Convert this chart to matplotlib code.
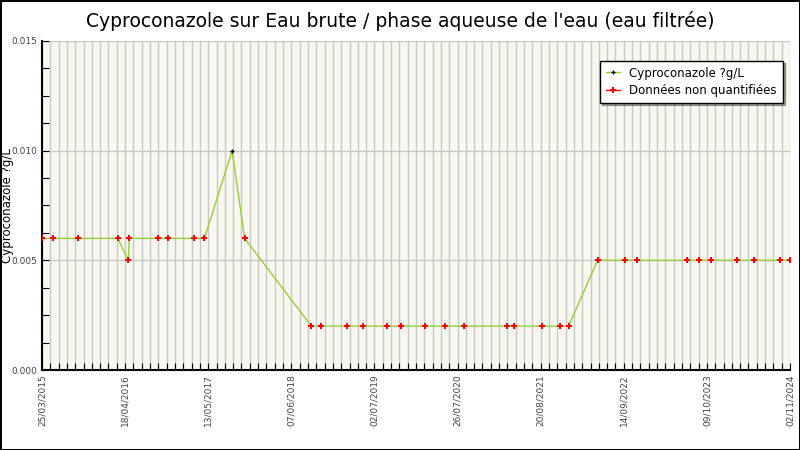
import numpy as np
import pandas as pd
import matplotlib
matplotlib.use('Agg')
import matplotlib.pyplot as plt
import matplotlib.dates as mdates
from matplotlib.lines import Line2D
from matplotlib.ticker import FixedLocator, MultipleLocator

#---------------------------------------------------DATA---------------------------------------------------------
dates = ['2015-03-25', '2015-05-17', '2015-09-09', '2016-03-14', '2016-05-03', '2016-05-08',
         '2016-09-21', '2016-11-07', '2017-03-09', '2017-04-25', '2017-09-02', '2017-10-31',
         '2018-09-09', '2018-10-26', '2019-02-25', '2019-05-11', '2019-08-31', '2019-11-05',
         '2020-02-22', '2020-05-26', '2020-08-23', '2021-03-13', '2021-04-19', '2021-08-24',
         '2021-11-17', '2021-12-29', '2022-05-14', '2022-09-22', '2022-11-13', '2023-07-06',
         '2023-08-31', '2023-10-26', '2024-02-25', '2024-05-15', '2024-09-14', '2024-10-31']
values = [0.006, 0.006, 0.006, 0.006, 0.005, 0.006,
          0.006, 0.006, 0.006, 0.006, 0.010, 0.006,
          0.002, 0.002, 0.002, 0.002, 0.002, 0.002,
          0.002, 0.002, 0.002, 0.002, 0.002, 0.002,
          0.002, 0.002, 0.005, 0.005, 0.005, 0.005,
          0.005, 0.005, 0.005, 0.005, 0.005, 0.005]
# True = quantified value, False = below quantification limit
quantified = [False] * 10 + [True] + [False] * 25

start_date = '2015-03-25'
tick_step_days = 390
n_ticks = 10

title = "Cyproconazole sur Eau brute / phase aqueuse de l'eau (eau filtrée)"
ylabel = 'Cyproconazole ?g/L'
legend_labels = ['Cyproconazole ?g/L', 'Données non quantifiées']

#---------------------------------------------------PLOT---------------------------------------------------------
x = mdates.date2num(pd.to_datetime(dates))
y = np.array(values)
q = np.array(quantified)
x0 = mdates.date2num(pd.Timestamp(start_date))
major = x0 + tick_step_days * np.arange(n_ticks)
minor = x0 + tick_step_days / 10 * np.arange((n_ticks - 1) * 10 + 1)

fig = plt.figure(figsize=(8, 4.5), dpi=100, facecolor='white', edgecolor='black', linewidth=2)
ax = fig.add_axes([42 / 800, 80 / 450, 748 / 800, 329 / 450])
ax.set_facecolor('#f8f8f0')

for m in minor:
    ax.axvline(m, color='#c8c8c8', linewidth=1, zorder=0)
for h in [0.005, 0.010, 0.015]:
    ax.axhline(h, color='#c8c8c8', linewidth=1, zorder=0)

ax.plot(x, y, color='yellowgreen', linewidth=1, zorder=2)
ax.plot(x[~q], y[~q], linestyle='none', marker='P', markersize=4.8,
        color='red', markeredgewidth=0, zorder=3)
ax.plot(x[q], y[q], linestyle='none', marker='+', markersize=3,
        color='black', markeredgewidth=1, zorder=3)

ax.set_xlim(major[0], major[-1])
ax.set_ylim(0, 0.015)
ax.xaxis.set_major_locator(FixedLocator(major))
ax.xaxis.set_minor_locator(FixedLocator(minor))
ax.xaxis.set_major_formatter(mdates.DateFormatter('%d/%m/%Y'))
ax.yaxis.set_major_locator(MultipleLocator(0.005))
ax.yaxis.set_minor_locator(MultipleLocator(0.00125))
ax.yaxis.set_major_formatter(matplotlib.ticker.FormatStrFormatter('%.3f'))

ax.tick_params(axis='both', which='both', direction='in', length=5, width=0.8, color='black',
               labelsize=6.5, labelcolor='#444444')
ax.tick_params(axis='x', which='major', rotation=90, pad=3)
ax.tick_params(top=False, right=False, which='both')
for s in ['top', 'right']:
    ax.spines[s].set_visible(False)
for s in ['left', 'bottom']:
    ax.spines[s].set_linewidth(1.5)

ax.set_ylabel(ylabel, fontsize=8.5)
ax.yaxis.set_label_coords(-0.038, 0.5)

fig.suptitle(title, fontsize=13.5, y=0.975,
             family=['Liberation Sans Narrow', 'DejaVu Sans Condensed', 'DejaVu Sans'])

handles = [Line2D([0], [0], color='yellowgreen', linewidth=1, marker='+', markersize=3,
                  markeredgecolor='black', markerfacecolor='black'),
           Line2D([0], [0], color='red', linewidth=1, marker='P', markersize=4.8,
                  markeredgewidth=0, markerfacecolor='red')]
leg = ax.legend(handles, legend_labels, loc='upper right', bbox_to_anchor=(0.998, 0.958),
                fontsize=8.5, frameon=True, fancybox=False, shadow=True, handlelength=1.2,
                borderpad=0.5, labelspacing=0.35)
leg.get_frame().set_edgecolor('black')
leg.get_frame().set_linewidth(1)

fig.savefig('out.png', dpi=100)
